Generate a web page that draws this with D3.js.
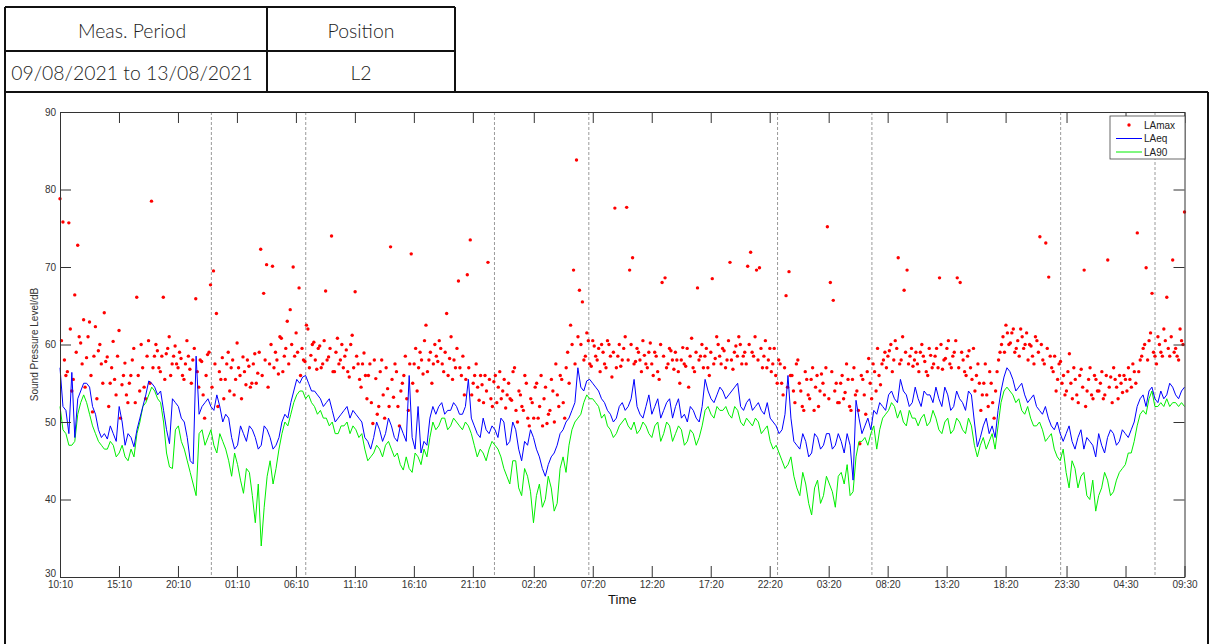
<!DOCTYPE html>
<html>
<head>
<meta charset="utf-8">
<script src="https://cdn.jsdelivr.net/npm/d3@7"></script>
<style>
  body { margin: 0; background: #fff; }
  svg { display: block; }
  .hdr { font-family: Lato, "Open Sans", sans-serif; font-weight: 300; font-size: 19.4px; fill: #222; }
  .axis text, .lbl { font-family: Arial, "Liberation Sans", sans-serif; font-size: 10px; fill: #333; }
  .axis line, .axis path { stroke: #333; }
</style>
</head>
<body>
<svg id="chart"></svg>
<script>
// header table
const headerCols = ['Meas. Period', 'Position'];
const headerVals = ['09/08/2021 to 13/08/2021', 'L2'];

// time axis: hours since 10:10 on 09/08/2021, ends 09:30 on 13/08/2021
const spanHours = 95 + 20 / 60;
const tickHours = [0, 5, 10, 15, 20, 25, 30, 35, 40.167, 45.167, 50.167, 55.167, 60.167, 65.167, 70.167, 75.167, 80.167, 85.333, 90.333, 95.333];
const tickLabels = ['10:10', '15:10', '20:10', '01:10', '06:10', '11:10', '16:10', '21:10', '02:20', '07:20', '12:20', '17:20', '22:20', '03:20', '08:20', '13:20', '18:20', '23:30', '04:30', '09:30'];
// night period markers (23:00 and 07:00)
const nightLines = [12.833, 20.833, 36.833, 44.833, 60.833, 68.833, 84.833, 92.833];
const yTicks = [30, 40, 50, 60, 70, 80, 90];

// LAeq, about every 15 min
const laeq = [
  57.0, 52.0, 51.5, 48.5, 56.4, 48.0, 53.0, 54.0, 55.0, 55.0, 54.5, 52.0, 51.0, 49.0, 48.0, 48.5, 47.8, 49.5, 48.5, 47.5,
  52.0, 50.0, 47.0, 48.5, 48.0, 46.8, 49.0, 50.5, 52.0, 53.5, 55.3, 55.0, 54.5, 53.5, 54.0, 51.5, 49.0, 47.2, 53.0, 52.5,
  52.0, 50.5, 50.0, 48.0, 45.0, 44.6, 58.5, 51.0, 52.0, 52.5, 53.0, 52.0, 51.5, 53.5, 52.0, 50.0, 51.0, 50.5, 48.0, 46.5,
  47.0, 49.5, 48.5, 47.5, 49.5, 49.0, 48.0, 46.5, 47.0, 49.5, 49.0, 48.0, 46.5, 47.0, 48.0, 50.0, 51.0, 50.5, 52.5, 54.0,
  55.5, 55.0, 55.8, 56.0, 55.0, 54.0, 54.0, 53.5, 53.0, 52.0, 52.5, 53.0, 51.5, 50.0, 50.5, 51.0, 51.5, 52.0, 50.5, 51.5,
  51.0, 50.5, 50.0, 48.0, 47.5, 46.5, 48.0, 50.0, 49.0, 47.5, 48.5, 50.5, 49.5, 48.0, 47.5, 49.5, 48.5, 47.5, 56.0, 48.0,
  46.5, 52.0, 46.0, 47.5, 47.0, 50.5, 52.0, 51.0, 52.0, 52.5, 51.0, 51.5, 51.5, 52.5, 52.0, 51.0, 51.0, 52.0, 55.5, 50.5,
  49.5, 48.5, 48.0, 50.5, 49.0, 48.5, 49.5, 49.0, 48.0, 50.5, 50.0, 47.0, 47.5, 50.0, 49.0, 46.5, 45.0, 47.5, 47.0, 49.0,
  48.0, 46.5, 45.5, 44.0, 43.0, 44.5, 45.5, 46.0, 47.0, 48.5, 49.0, 50.0, 50.5, 51.5, 52.5, 57.0, 54.5, 54.0, 55.3, 55.5,
  55.0, 54.5, 54.0, 53.0, 52.5, 51.5, 51.0, 50.0, 50.5, 52.0, 52.5, 51.5, 52.0, 53.0, 55.5, 52.0, 51.0, 50.5, 52.0, 53.5,
  51.0, 52.0, 53.0, 50.5, 51.5, 52.5, 53.0, 50.5, 52.0, 53.0, 50.5, 51.0, 50.0, 52.0, 51.5, 50.5, 50.0, 52.0, 55.5, 54.0,
  53.0, 52.5, 53.5, 54.5, 54.0, 53.0, 53.5, 54.0, 54.5, 55.0, 52.0, 51.5, 52.5, 53.0, 51.5, 52.0, 52.5, 51.5, 51.0, 52.5,
  50.5, 50.0, 49.5, 48.5, 49.0, 51.0, 56.0, 50.5, 47.5, 47.0, 46.5, 48.5, 47.5, 45.5, 46.0, 48.5, 48.0, 46.5, 47.0, 48.5,
  48.5, 46.5, 47.0, 48.5, 47.5, 46.0, 48.5, 47.0, 42.5, 52.8, 50.5, 48.5, 49.5, 50.5, 49.0, 51.5, 51.0, 52.5, 52.0, 51.5,
  53.5, 54.0, 53.0, 52.5, 55.5, 54.0, 53.5, 52.0, 52.5, 54.5, 53.0, 52.0, 54.0, 53.5, 53.5, 52.5, 54.5, 53.0, 52.0, 54.5,
  53.5, 51.5, 52.0, 54.0, 53.0, 52.5, 51.5, 54.0, 53.5, 50.0, 46.8, 48.0, 49.5, 50.5, 48.5, 49.5, 48.0, 51.5, 54.0, 55.8,
  57.0, 56.5, 55.5, 54.0, 54.5, 55.0, 53.5, 52.5, 53.0, 53.5, 52.0, 51.5, 51.0, 52.0, 50.5, 49.5, 49.0, 50.0, 48.5, 47.5,
  48.5, 49.5, 47.5, 46.5, 48.0, 49.0, 46.5, 48.0, 47.5, 47.0, 45.5, 48.5, 47.0, 46.0, 48.0, 49.0, 48.5, 47.0, 47.5, 49.0,
  48.5, 48.0, 49.0, 50.0, 52.0, 53.0, 53.5, 52.0, 54.0, 54.5, 53.0, 52.5, 54.0, 53.0, 53.5, 55.0, 54.5, 53.5, 53.0, 54.0, 54.5
];

// LA90, about every 15 min
const la90 = [
  52.0, 49.0, 48.5, 47.0, 47.0, 47.5, 51.0, 52.5, 53.5, 52.5, 51.0, 49.5, 48.5, 47.5, 47.0, 46.5, 46.5, 47.5, 47.0, 45.5,
  46.0, 47.0, 45.5, 45.0, 46.5, 45.5, 48.5, 50.0, 52.0, 52.5, 53.5, 54.5, 54.0, 53.0, 52.5, 50.0, 46.0, 44.2, 44.0, 49.0,
  49.5, 47.5, 46.5, 45.0, 43.5, 42.0, 40.5, 48.5, 49.0, 47.0, 48.0, 49.0, 47.0, 46.0, 48.5, 47.5, 46.5, 45.0, 43.0, 46.0,
  44.5, 42.5, 40.8, 44.0, 43.5, 40.5, 37.0, 42.0, 34.0, 39.0, 43.0, 45.0, 42.0, 44.0, 46.5, 48.5, 50.0, 49.5, 51.0, 52.5,
  53.5, 54.0, 54.0, 53.0, 53.5, 52.5, 52.0, 51.0, 51.5, 50.5, 50.5, 49.5, 50.0, 48.5, 48.5, 49.5, 49.5, 50.0, 48.5, 49.5,
  49.0, 48.0, 48.5, 46.5, 45.0, 45.5, 46.0, 47.0, 46.5, 45.5, 47.0, 47.5, 46.5, 45.5, 46.0, 44.5, 43.8, 45.5, 44.0, 43.5,
  46.0, 45.5, 44.5, 46.5, 45.5, 48.0, 50.0, 49.0, 49.5, 50.5, 50.5, 49.0, 49.5, 50.5, 50.0, 49.5, 49.0, 50.0, 49.5, 48.5,
  47.0, 45.5, 46.5, 46.0, 45.0, 46.5, 47.5, 47.0, 46.5, 45.5, 44.0, 43.0, 42.0, 45.0, 45.0, 41.5, 40.5, 44.0, 43.0, 41.0,
  37.0, 40.5, 42.0, 39.0, 40.0, 43.0, 41.5, 38.5, 39.5, 44.0, 45.5, 43.5, 47.0, 49.0, 50.0, 50.5, 51.0, 52.5, 53.5, 53.0,
  53.0, 52.5, 52.0, 50.5, 51.0, 49.5, 49.0, 48.0, 48.5, 49.5, 50.0, 50.5, 49.5, 49.0, 50.0, 48.5, 49.0, 50.0, 49.5, 48.5,
  48.0, 49.5, 50.0, 47.5, 48.5, 50.0, 49.5, 47.5, 48.5, 49.5, 49.0, 47.0, 47.5, 49.0, 48.5, 47.0, 48.0, 49.5, 51.5, 52.0,
  51.0, 50.5, 52.0, 51.5, 51.5, 52.0, 51.0, 50.5, 52.0, 51.5, 50.0, 49.5, 50.5, 50.0, 49.5, 50.5, 50.0, 48.5, 49.0, 49.5,
  47.5, 46.5, 47.0, 46.0, 45.0, 44.0, 44.5, 45.5, 43.0, 41.5, 40.5, 43.5, 42.0, 39.5, 38.0, 41.5, 42.5, 39.5, 40.5, 43.0,
  42.0, 41.0, 39.0, 43.0, 43.5, 42.0, 44.5, 40.5, 41.0, 45.5, 47.5, 47.5, 48.0, 47.0, 48.5, 49.5, 46.5, 49.0, 50.5, 51.0,
  51.5, 52.5, 52.0, 50.5, 51.5, 50.0, 49.5, 51.5, 50.5, 50.5, 49.5, 50.5, 51.0, 49.5, 50.0, 51.5, 50.5, 49.0, 48.5, 50.0,
  50.5, 48.5, 49.0, 50.5, 50.0, 49.0, 48.5, 50.5, 49.5, 47.0, 45.5, 47.0, 48.0, 46.5, 47.5, 48.5, 46.5, 49.5, 52.5, 54.0,
  54.5, 54.0, 53.5, 52.5, 53.0, 51.5, 51.0, 52.0, 50.5, 49.5, 49.5, 50.0, 49.0, 47.5, 48.0, 48.5, 46.5, 45.5, 45.0, 46.5,
  43.5, 41.5, 45.0, 44.0, 41.5, 43.0, 43.5, 40.5, 40.0, 42.5, 38.5, 40.5, 41.5, 43.5, 42.5, 40.5, 41.0, 42.5, 43.5, 44.0,
  44.5, 46.0, 46.0, 47.5, 49.5, 51.0, 51.5, 51.0, 53.0, 54.0, 52.0, 52.0, 52.5, 52.0, 53.0, 52.0, 52.5, 52.5, 52.0, 52.5, 52.0
];

// LAmax, about every 7.5 min
const lamax = [
  78.8, 60.5, 75.8, 58.0, 56.0, 56.5, 75.7, 62.0, 54.0, 55.5, 66.4, 59.0, 72.8, 61.0, 60.2, 57.5,
  63.2, 54.5, 58.3, 61.0, 62.9, 56.0, 51.3, 58.5, 62.3, 53.0, 59.2, 60.0, 57.5, 55.0, 64.1, 57.8,
  58.4, 52.0, 55.0, 57.0, 60.4, 55.5, 53.5, 58.5, 61.8, 50.5, 54.8, 56.0, 57.6, 53.5, 52.5, 55.0,
  56.0, 58.0, 59.5, 52.5, 66.1, 56.0, 54.0, 60.0, 57.0, 54.5, 53.0, 58.5, 60.5, 55.0, 78.5, 57.0,
  58.5, 60.0, 59.2, 57.0, 56.5, 58.5, 66.1, 55.5, 58.8, 59.5, 61.0, 56.0, 57.5, 58.5, 59.8, 57.5,
  57.0, 59.0, 58.2, 56.0, 55.5, 57.5, 60.5, 58.5, 56.8, 55.0, 58.0, 59.5, 65.9, 56.5, 54.5, 58.0,
  57.8, 53.5, 50.5, 56.0, 58.7, 59.0, 67.7, 54.5, 69.5, 57.5, 64.0, 52.0, 56.5, 55.5, 58.3, 53.0,
  55.5, 57.5, 59.0, 54.0, 57.0, 58.0, 53.5, 55.5, 60.2, 57.0, 56.0, 53.0, 58.4, 56.5, 54.8, 58.0,
  57.2, 54.5, 55.0, 57.5, 58.8, 55.0, 56.3, 59.0, 72.3, 56.0, 66.6, 58.0, 70.3, 54.5, 57.5, 60.0,
  70.1, 57.0, 59.0, 58.0, 56.2, 61.0, 60.8, 56.5, 58.5, 59.5, 63.0, 57.5, 64.5, 60.0, 70.0, 58.5,
  61.5, 59.0, 67.3, 56.0, 59.5, 58.0, 57.8, 62.5, 62.0, 57.0, 58.6, 60.0, 60.3, 58.0, 56.8, 59.5,
  59.8, 57.0, 57.5, 60.5, 66.9, 58.0, 58.4, 59.5, 74.0, 56.5, 56.5, 59.0, 60.8, 57.5, 58.0, 60.0,
  57.0, 58.5, 59.3, 56.5, 55.8, 60.0, 61.2, 57.0, 66.8, 58.5, 57.5, 55.5, 54.5, 57.5, 58.9, 56.0,
  53.0, 56.0, 57.5, 52.5, 49.8, 58.0, 55.6, 51.0, 52.0, 56.5, 58.0, 53.5, 50.5, 57.0, 54.3, 52.0,
  72.6, 55.5, 53.2, 57.5, 56.5, 52.0, 49.5, 54.0, 55.0, 56.0, 58.5, 53.0, 51.5, 57.5, 71.7, 55.0,
  57.5, 59.5, 54.0, 57.0, 59.0, 58.0, 56.2, 60.5, 62.5, 56.5, 58.0, 59.0, 55.0, 57.5, 60.0, 58.5,
  57.8, 60.5, 59.5, 57.5, 56.5, 59.0, 64.0, 56.0, 58.2, 61.0, 55.5, 58.0, 57.0, 59.5, 68.2, 57.0,
  56.0, 58.5, 53.5, 55.5, 69.0, 57.0, 73.5, 53.5, 55.0, 56.0, 57.5, 54.5, 52.8, 56.0, 54.8, 52.5,
  56.0, 54.0, 70.6, 55.5, 53.0, 52.0, 55.2, 56.0, 52.5, 54.5, 56.5, 53.0, 54.0, 55.5, 51.8, 53.5,
  55.0, 53.0, 52.8, 56.5, 57.0, 51.5, 50.0, 54.0, 53.5, 52.0, 51.5, 56.0, 55.0, 50.5, 49.5, 53.0,
  52.5, 50.5, 54.5, 55.0, 50.5, 52.0, 56.0, 49.5, 53.0, 54.5, 49.8, 51.0, 51.5, 55.5, 54.0, 50.0,
  57.5, 53.5, 52.0, 56.0, 55.5, 52.5, 50.5, 57.0, 59.0, 55.0, 62.5, 60.0, 69.6, 57.5, 83.8, 61.0,
  67.0, 60.0, 65.5, 58.0, 58.5, 61.5, 60.5, 57.5, 57.2, 60.5, 59.8, 58.5, 58.0, 59.5, 56.5, 60.0,
  59.0, 57.5, 57.0, 60.5, 60.0, 58.5, 55.8, 59.0, 77.6, 57.0, 58.5, 60.0, 57.2, 58.0, 59.5, 61.0,
  77.7, 58.0, 69.6, 60.0, 71.2, 57.5, 57.8, 59.5, 59.0, 58.0, 56.5, 60.5, 58.6, 57.5, 57.0, 59.0,
  60.2, 57.5, 56.0, 59.0, 58.5, 56.5, 55.5, 60.0, 68.0, 58.5, 68.6, 57.0, 57.5, 59.5, 59.2, 58.0,
  56.8, 59.0, 58.0, 56.5, 55.0, 58.0, 59.6, 57.5, 57.2, 59.5, 54.5, 58.5, 60.8, 57.0, 56.5, 59.0,
  67.3, 58.0, 58.5, 60.0, 57.0, 58.5, 59.5, 57.0, 56.0, 59.0, 68.5, 57.5, 58.2, 61.0, 60.0, 58.5,
  57.5, 59.5, 59.2, 57.0, 58.0, 60.5, 70.6, 58.0, 56.8, 59.0, 59.8, 58.5, 61.0, 60.0, 57.5, 58.5,
  59.0, 57.5, 70.1, 60.0, 71.9, 59.0, 58.5, 61.0, 69.6, 58.0, 69.9, 59.5, 57.0, 58.5, 60.5, 57.0,
  58.0, 59.5, 56.5, 57.5, 59.5, 56.0, 55.0, 58.0, 57.5, 55.0, 53.5, 57.0, 66.3, 54.5, 69.4, 56.0,
  56.0, 54.0, 52.5, 57.5, 58.0, 55.0, 54.0, 52.0, 51.5, 56.5, 55.5, 53.5, 53.0, 55.5, 57.0, 51.5,
  54.5, 56.0, 52.0, 54.0, 56.2, 55.0, 53.5, 57.0, 75.2, 53.0, 68.0, 56.5, 65.7, 54.0, 55.0, 52.5,
  52.5, 55.0, 56.0, 53.0, 53.8, 57.5, 55.5, 52.0, 51.5, 55.5, 57.0, 53.5, 54.0, 51.5, 47.2, 56.0,
  55.5, 53.5, 51.0, 56.5, 58.2, 55.0, 53.0, 57.5, 56.5, 54.0, 59.5, 56.0, 54.8, 57.5, 58.0, 59.0,
  57.0, 58.5, 59.2, 60.0, 56.5, 58.0, 60.5, 59.5, 71.2, 57.5, 58.0, 61.0, 67.0, 59.0, 69.6, 57.5,
  58.5, 59.5, 57.2, 58.0, 59.0, 57.5, 56.5, 59.0, 60.0, 58.5, 57.8, 56.5, 56.0, 59.5, 58.6, 57.0,
  57.5, 58.5, 59.5, 57.0, 68.6, 60.0, 56.8, 58.0, 58.2, 59.5, 60.5, 57.5, 57.0, 58.5, 59.0, 60.5,
  68.6, 57.0, 68.0, 59.0, 58.0, 56.5, 56.0, 58.5, 59.2, 57.0, 55.5, 59.5, 54.0, 56.0, 57.5, 55.0,
  51.5, 53.5, 55.0, 57.5, 53.5, 52.0, 56.5, 55.0, 52.5, 50.5, 54.0, 56.5, 58.0, 59.0, 60.0, 61.0,
  59.0, 62.5, 61.5, 60.0, 60.2, 61.5, 62.0, 59.0, 59.5, 60.5, 58.5, 62.0, 61.0, 59.5, 60.0, 61.5,
  58.0, 60.0, 59.8, 58.5, 57.5, 61.0, 60.5, 59.0, 73.9, 60.0, 58.0, 57.5, 73.1, 59.5, 68.7, 58.5,
  57.0, 56.5, 58.5, 54.0, 55.5, 57.5, 57.8, 55.0, 56.0, 53.5, 54.0, 56.5, 58.8, 55.0, 53.0, 57.0,
  55.5, 53.5, 52.5, 56.0, 56.8, 54.5, 69.6, 52.0, 54.0, 55.5, 57.0, 53.5, 53.0, 56.0, 55.5, 54.0,
  54.0, 55.0, 56.5, 53.0, 53.5, 56.0, 70.9, 54.5, 55.8, 52.5, 57.0, 55.5, 54.5, 53.0, 56.0, 55.0,
  53.8, 56.0, 55.5, 54.0, 57.0, 55.5, 54.5, 57.5, 56.5, 55.0, 74.4, 56.5, 58.0, 58.5, 59.5, 60.0,
  69.9, 58.0, 60.5, 61.5, 66.6, 59.0, 58.5, 57.5, 61.0, 60.0, 59.0, 58.5, 62.0, 60.5, 66.1, 59.5,
  58.5, 61.0, 70.9, 59.0, 59.5, 58.5, 58.0, 62.0, 60.5, 60.0, 77.1
];

class TimeHistory {

    constructor(_config) {
        this.config = {
            parentElement: _config.parentElement,
            containerWidth: 1211,
            containerHeight: 644,
            plot: { left: 60, right: 1184.5, top: 112, bottom: 577 },
            tickLen: 11,
            dotRadius: 1.7
        }
        this.initVis();
    }

    initVis() {
        let vis = this;
        const p = vis.config.plot;

        vis.svg = d3.select(vis.config.parentElement)
            .attr('width', vis.config.containerWidth)
            .attr('height', vis.config.containerHeight);

        vis.xScale = d3.scaleLinear()
            .domain([0, spanHours])
            .range([p.left, p.right]);

        vis.yScale = d3.scaleLinear()
            .domain([30, 90])
            .range([p.bottom, p.top]);

        vis.drawHeader();
        vis.renderVis();
    }

    drawHeader() {
        let vis = this;
        const g = vis.svg.append('g');
        const frame = [
            [5, 7, 455, 7], [5, 51, 455, 51], [5, 92, 1208, 92],
            [5, 7, 5, 644], [267, 7, 267, 92], [455, 7, 455, 92], [1208, 92, 1208, 644]
        ];
        g.selectAll('line')
            .data(frame)
            .join('line')
            .attr('x1', d => d[0]).attr('y1', d => d[1])
            .attr('x2', d => d[2]).attr('y2', d => d[3])
            .attr('stroke', '#111')
            .attr('stroke-width', 2);

        const colMid = [132, 361];
        g.selectAll('.hcol')
            .data(headerCols)
            .join('text')
            .attr('class', 'hdr hcol')
            .attr('x', (d, i) => colMid[i])
            .attr('y', 38)
            .attr('text-anchor', 'middle')
            .text(d => d);
        g.selectAll('.hval')
            .data(headerVals)
            .join('text')
            .attr('class', 'hdr hval')
            .attr('x', (d, i) => colMid[i])
            .attr('y', 80)
            .attr('text-anchor', 'middle')
            .text(d => d);
    }

    renderVis() {
        let vis = this;
        const p = vis.config.plot;
        const t = vis.config.tickLen;

        // night markers
        vis.svg.append('g')
            .selectAll('line')
            .data(nightLines)
            .join('line')
            .attr('x1', d => vis.xScale(d)).attr('x2', d => vis.xScale(d))
            .attr('y1', p.top).attr('y2', p.bottom)
            .attr('stroke', '#9a9a9a')
            .attr('stroke-width', 1)
            .attr('stroke-dasharray', '3,2');

        // LAmax dots
        const stepMax = spanHours / (lamax.length - 1);
        vis.svg.append('g')
            .selectAll('circle')
            .data(lamax)
            .join('circle')
            .attr('cx', (d, i) => vis.xScale(i * stepMax))
            .attr('cy', d => vis.yScale(d))
            .attr('r', vis.config.dotRadius)
            .attr('fill', '#ff0000');

        const stepLine = spanHours / (laeq.length - 1);
        const line = d3.line()
            .x((d, i) => vis.xScale(i * stepLine))
            .y(d => vis.yScale(d));

        vis.svg.append('path')
            .datum(la90)
            .attr('d', line)
            .attr('fill', 'none')
            .attr('stroke', '#00ee00')
            .attr('stroke-width', 1);

        vis.svg.append('path')
            .datum(laeq)
            .attr('d', line)
            .attr('fill', 'none')
            .attr('stroke', '#0000ff')
            .attr('stroke-width', 1);

        // axes, matlab style box with inward ticks
        const fmt = (d, i) => tickLabels[i];
        vis.svg.append('g')
            .attr('class', 'axis')
            .attr('transform', `translate(0,${p.bottom})`)
            .call(d3.axisBottom(vis.xScale).tickValues(tickHours).tickFormat(fmt).tickSizeInner(-t).tickSizeOuter(0).tickPadding(4));
        vis.svg.append('g')
            .attr('class', 'axis')
            .attr('transform', `translate(0,${p.top})`)
            .call(d3.axisTop(vis.xScale).tickValues(tickHours).tickFormat('').tickSizeInner(-t).tickSizeOuter(0));
        vis.yAxisG = vis.svg.append('g')
            .attr('class', 'axis')
            .attr('transform', `translate(${p.left},0)`)
            .call(d3.axisLeft(vis.yScale).tickValues(yTicks).tickSizeInner(-t).tickSizeOuter(0).tickPadding(4));
        // lowest label sits just above the time labels
        vis.yAxisG.selectAll('.tick text').filter(d => d === 30).attr('dy', '-0.05em');
        vis.svg.append('g')
            .attr('class', 'axis')
            .attr('transform', `translate(${p.right},0)`)
            .call(d3.axisRight(vis.yScale).tickValues(yTicks).tickFormat('').tickSizeInner(-t).tickSizeOuter(0));

        vis.svg.append('text')
            .attr('class', 'lbl')
            .attr('x', (p.left + p.right) / 2)
            .attr('y', 604)
            .attr('text-anchor', 'middle')
            .style('font-size', '13px')
            .style('fill', '#111')
            .text('Time');

        vis.svg.append('text')
            .attr('class', 'lbl')
            .attr('transform', `translate(38,${(p.top + p.bottom) / 2}) rotate(-90)`)
            .attr('text-anchor', 'middle')
            .text('Sound Pressure Level/dB');

        vis.drawLegend();
    }

    drawLegend() {
        let vis = this;
        const lg = vis.svg.append('g').attr('transform', 'translate(1110,116)');
        lg.append('rect')
            .attr('width', 75).attr('height', 43)
            .attr('fill', '#fff').attr('stroke', '#444').attr('stroke-width', 0.8);
        const items = [
            { name: 'LAmax', color: '#ff0000', dot: true },
            { name: 'LAeq', color: '#0000ff' },
            { name: 'LA90', color: '#00ee00' }
        ];
        const row = lg.selectAll('g')
            .data(items)
            .join('g')
            .attr('transform', (d, i) => `translate(0,${9 + i * 13.5})`);
        row.filter(d => d.dot).append('circle')
            .attr('cx', 19).attr('cy', 0).attr('r', vis.config.dotRadius).attr('fill', d => d.color);
        row.filter(d => !d.dot).append('line')
            .attr('x1', 6).attr('x2', 32).attr('y1', 0).attr('y2', 0)
            .attr('stroke', d => d.color).attr('stroke-width', 1);
        row.append('text')
            .attr('class', 'lbl')
            .attr('x', 34).attr('y', 3.5)
            .style('fill', '#222')
            .text(d => d.name);
    }
}

new TimeHistory({ parentElement: '#chart' });
</script>
</body>
</html>
